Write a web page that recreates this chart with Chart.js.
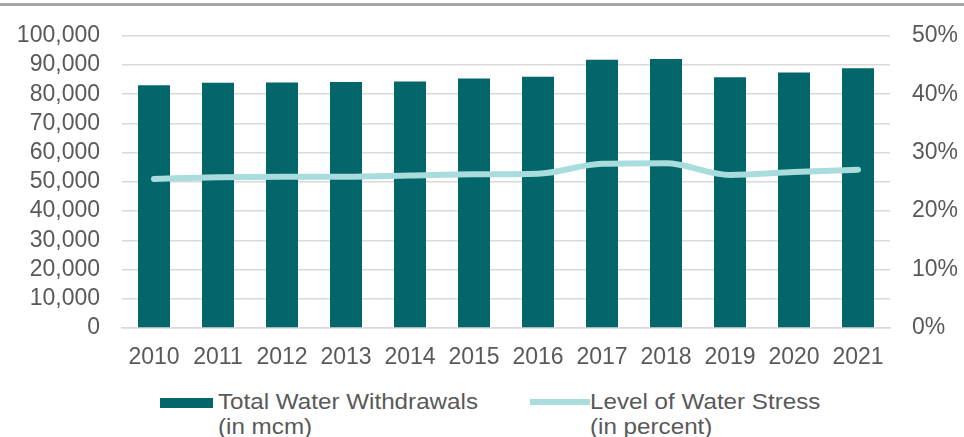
<!DOCTYPE html>
<html>
<head>
<meta charset="utf-8">
<script src="https://cdn.jsdelivr.net/npm/chart.js@4"></script>
<style>
  html, body { margin: 0; padding: 0; background: #fff; }
  body { width: 964px; height: 437px; position: relative; overflow: hidden; }
  .top-rule { position: absolute; left: 0; top: 3px; width: 964px; height: 3px; background: #a6a6a6; }
  .chart-wrap { position: absolute; left: 0; top: 0; width: 964px; height: 380px; }
  .legend { position: absolute; top: 389px; left: 0; font-family: "Liberation Sans", Arial, sans-serif; font-size: 22px; line-height: 25px; color: #595959; }
  .legend__item { position: absolute; top: 0; white-space: nowrap; }
  .legend__bar { position: absolute; left: 0; top: 9px; width: 53px; height: 10px; background: #03666A; }
  .legend__line { position: absolute; left: 0; top: 10px; width: 60px; height: 6px; background: #A9DCDC; }
  .legend__text { position: absolute; top: 0; transform: scaleX(1.1); transform-origin: left top; }
</style>
</head>
<body>
<div class="top-rule"></div>
<div class="chart-wrap"><canvas id="chart" width="964" height="380"></canvas></div>
<div class="legend">
  <div class="legend__item" style="left:160px">
    <span class="legend__bar"></span>
    <span class="legend__text" style="left:58px">Total Water Withdrawals<br>(in mcm)</span>
  </div>
  <div class="legend__item" style="left:530px">
    <span class="legend__line"></span>
    <span class="legend__text" style="left:60px">Level of Water Stress<br>(in percent)</span>
  </div>
</div>
<script>
'use strict';

const years = ['2010', '2011', '2012', '2013', '2014', '2015', '2016', '2017', '2018', '2019', '2020', '2021'];
const withdrawals = [83100, 83900, 84000, 84200, 84400, 85400, 86000, 91800, 92100, 85800, 87400, 88900];
const stressPercent = [25.5, 25.8, 25.9, 25.9, 26.1, 26.3, 26.4, 28.1, 28.2, 26.2, 26.7, 27.1];

const tickColor = '#595959';
const gridColor = '#d9d9d9';
const tickFont = { family: '"Liberation Sans", Arial, sans-serif', size: 23 };

new Chart(document.getElementById('chart'), {
  data: {
    labels: years,
    datasets: [
      {
        type: 'line',
        label: 'Level of Water Stress (in percent)',
        data: stressPercent,
        yAxisID: 'yRight',
        borderColor: '#A9DCDC',
        borderWidth: 6,
        borderCapStyle: 'round',
        pointRadius: 0,
        tension: 0.4,
        cubicInterpolationMode: 'monotone',
        order: 1,
      },
      {
        type: 'bar',
        label: 'Total Water Withdrawals (in mcm)',
        data: withdrawals,
        yAxisID: 'y',
        backgroundColor: '#03666A',
        barPercentage: 0.5,
        categoryPercentage: 1,
        order: 2,
      },
    ],
  },
  options: {
    responsive: false,
    animation: false,
    layout: { padding: { top: 32, bottom: 0, left: 0, right: 0 } },
    plugins: {
      legend: { display: false },
      tooltip: { enabled: false },
    },
    scales: {
      x: {
        grid: { display: false },
        border: { display: true, color: gridColor, width: 1.5 },
        ticks: { color: tickColor, font: tickFont, padding: 8, maxRotation: 0, autoSkip: false },
        afterFit: (axis) => { axis.height = 52; },
      },
      y: {
        position: 'left',
        min: 0,
        max: 100000,
        ticks: {
          stepSize: 10000,
          autoSkip: false,
          color: tickColor,
          font: tickFont,
          padding: 22,
          callback: (value) => value.toLocaleString('en-US'),
        },
        grid: { color: gridColor, lineWidth: 1.5, drawTicks: false },
        border: { display: false },
        afterFit: (axis) => { axis.width = 122; },
      },
      yRight: {
        position: 'right',
        min: 0,
        max: 50,
        ticks: {
          stepSize: 10,
          autoSkip: false,
          color: tickColor,
          font: tickFont,
          padding: 22,
          callback: (value) => value + '%',
        },
        grid: { display: false, drawTicks: false },
        border: { display: false },
        afterFit: (axis) => { axis.width = 74; },
      },
    },
  },
});
</script>
</body>
</html>
